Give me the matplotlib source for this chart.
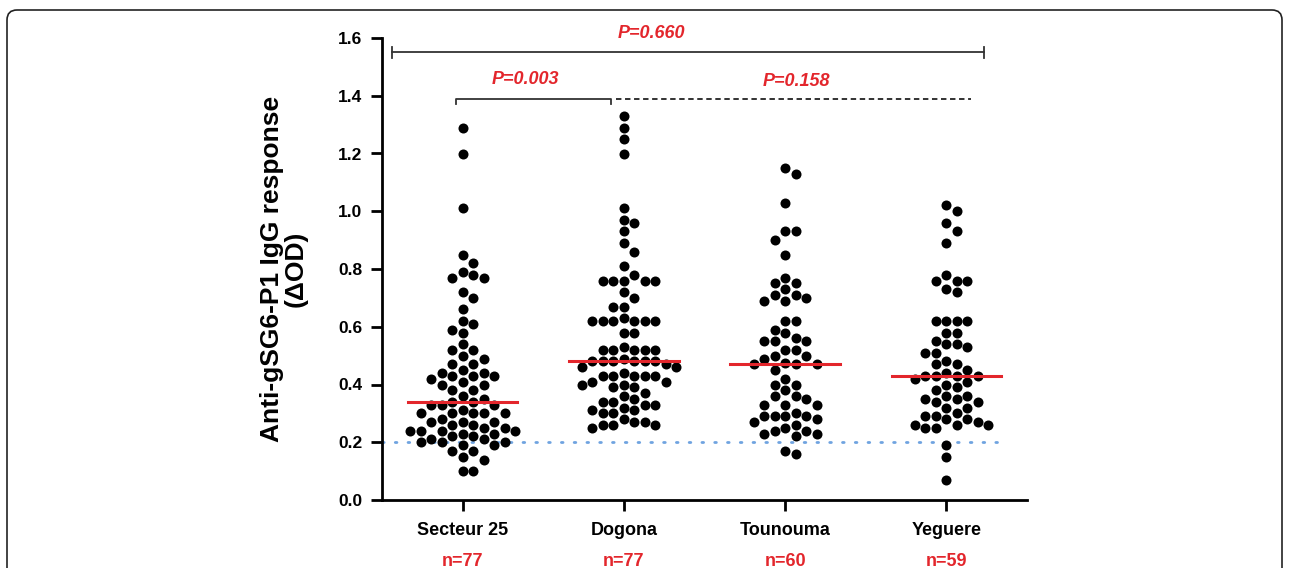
import numpy as np
import matplotlib
matplotlib.use("Agg")
import matplotlib.pyplot as plt
from matplotlib.patches import FancyBboxPatch
from matplotlib.transforms import IdentityTransform, blended_transform_factory

plt.rcParams['font.family'] = ['Liberation Sans', 'DejaVu Sans']

# --- data ---
groups = ["Secteur 25", "Dogona", "Tounouma", "Yeguere"]
counts = ["n=77", "n=77", "n=60", "n=59"]

secteur25 = [1.29, 1.20, 1.01, 0.85, 0.82, 0.79, 0.78, 0.77, 0.77, 0.72,
             0.70, 0.66, 0.62, 0.61, 0.59, 0.58, 0.54, 0.52, 0.52, 0.50,
             0.49, 0.47, 0.47, 0.45, 0.44, 0.44, 0.43, 0.43, 0.43, 0.42,
             0.41, 0.40, 0.40, 0.38, 0.38, 0.36, 0.35, 0.34, 0.34, 0.33,
             0.33, 0.33, 0.31, 0.30, 0.30, 0.30, 0.30, 0.30, 0.28, 0.27,
             0.27, 0.27, 0.26, 0.26, 0.25, 0.25, 0.24, 0.24, 0.24, 0.24,
             0.23, 0.23, 0.22, 0.22, 0.21, 0.21, 0.20, 0.20, 0.20, 0.19,
             0.19, 0.17, 0.17, 0.15, 0.14, 0.10, 0.10]
dogona = [1.33, 1.29, 1.25, 1.20, 1.01, 0.97, 0.96, 0.93, 0.89, 0.86,
          0.81, 0.78, 0.76, 0.76, 0.76, 0.76, 0.76, 0.72, 0.70, 0.67,
          0.67, 0.63, 0.62, 0.62, 0.62, 0.62, 0.62, 0.62, 0.58, 0.58,
          0.53, 0.52, 0.52, 0.52, 0.52, 0.52, 0.49, 0.48, 0.48, 0.48,
          0.48, 0.48, 0.48, 0.47, 0.46, 0.46, 0.44, 0.43, 0.43, 0.43,
          0.43, 0.43, 0.41, 0.41, 0.40, 0.40, 0.39, 0.39, 0.37, 0.36,
          0.35, 0.34, 0.34, 0.33, 0.33, 0.32, 0.31, 0.31, 0.30, 0.30,
          0.28, 0.27, 0.27, 0.26, 0.26, 0.26, 0.25]
tounouma = [1.15, 1.13, 1.03, 0.93, 0.93, 0.90, 0.85, 0.77, 0.75, 0.75,
            0.73, 0.71, 0.71, 0.70, 0.69, 0.69, 0.62, 0.62, 0.59, 0.58,
            0.56, 0.55, 0.55, 0.55, 0.52, 0.52, 0.50, 0.50, 0.49, 0.475,
            0.47, 0.47, 0.47, 0.45, 0.42, 0.40, 0.40, 0.38, 0.36, 0.36,
            0.35, 0.33, 0.33, 0.33, 0.30, 0.29, 0.29, 0.29, 0.29, 0.28,
            0.27, 0.26, 0.25, 0.24, 0.24, 0.23, 0.23, 0.22, 0.17, 0.16]
yeguere = [1.02, 1.00, 0.96, 0.93, 0.89, 0.78, 0.76, 0.76, 0.76, 0.73,
           0.72, 0.62, 0.62, 0.62, 0.62, 0.58, 0.58, 0.55, 0.54, 0.54,
           0.53, 0.51, 0.51, 0.48, 0.47, 0.47, 0.45, 0.44, 0.43, 0.43,
           0.43, 0.43, 0.42, 0.41, 0.40, 0.39, 0.38, 0.36, 0.36, 0.35,
           0.35, 0.34, 0.34, 0.32, 0.32, 0.30, 0.29, 0.29, 0.28, 0.28,
           0.27, 0.26, 0.26, 0.26, 0.25, 0.25, 0.19, 0.15, 0.07]
values = [secteur25, dogona, tounouma, yeguere]

p_labels = ["P=0.660", "P=0.003", "P=0.158"]
cutoff = 0.2

red = "#e3262c"
blue = "#6fa3e0"

fig = plt.figure(figsize=(12.9, 5.68), dpi=100)
ax = fig.add_axes([382 / 1290, 1 - 500 / 568, (1027 - 382) / 1290, (500 - 38) / 568])
ax.set_xlim(-0.5, 3.5)
ax.set_ylim(0, 1.6)

# pixel scales for the swarm layout
px_x = (1027 - 382) / 4.0
px_y = (500 - 38) / 1.6
diam = 10.5


def swarm(vals):
    order = np.argsort(vals)[::-1]
    placed = []
    offs = np.zeros(len(vals))
    step = diam / 2
    cands = [0]
    for k in range(1, 20):
        cands += [k * step, -k * step]
    for i in order:
        y = vals[i] * px_y
        for c in cands:
            ok = True
            for (px, py) in placed:
                if (px - c) ** 2 + (py - y) ** 2 < (diam * 0.98) ** 2:
                    ok = False
                    break
            if ok:
                offs[i] = c
                placed.append((c, y))
                break
    return offs / px_x


for i, v in enumerate(values):
    v = np.array(v)
    xo = swarm(v)
    ax.scatter(i + xo, v, s=52, color="black", zorder=3, linewidths=0)
    med = np.median(v)
    ax.plot([i - 0.34, i + 0.34], [med, med], color=red, lw=2.2, zorder=4)

ax.plot([-0.5, 3.36], [cutoff, cutoff], color=blue, lw=2, ls=(0, (0.6, 4)),
        dash_capstyle="round", zorder=2)

# significance brackets
ax.plot([-0.435, 3.236], [1.55, 1.55], color="#333333", lw=1.3, clip_on=False)
for xe in [-0.435, 3.236]:
    ax.plot([xe, xe], [1.53, 1.57], color="#333333", lw=1.3, clip_on=False)
ax.plot([-0.04, -0.04, 0.92, 0.92], [1.37, 1.39, 1.39, 1.37], color="#333333", lw=1.3)
ax.plot([0.95, 3.155], [1.39, 1.39], color="#222222", lw=1.3, ls=(0, (3, 2)))
ax.text(1.17, 1.617, p_labels[0], color=red, fontsize=13, fontweight="bold",
        fontstyle="italic", ha="center", va="center", clip_on=False)
ax.text(0.39, 1.455, p_labels[1], color=red, fontsize=13, fontweight="bold",
        fontstyle="italic", ha="center", va="center")
ax.text(2.07, 1.448, p_labels[2], color=red, fontsize=13, fontweight="bold",
        fontstyle="italic", ha="center", va="center")

ax.set_xticks(range(4))
ax.set_xticklabels(groups, fontsize=13, fontweight="bold")
ax.set_yticks(np.arange(0, 1.61, 0.2))
ax.set_yticklabels(["%.1f" % t for t in np.arange(0, 1.61, 0.2)], fontsize=12.5, fontweight="bold")
ax.tick_params(axis="both", length=8, width=2, direction="out", pad=6)
ax.tick_params(axis="x", pad=8)
for s in ["top", "right"]:
    ax.spines[s].set_visible(False)
for s in ["left", "bottom"]:
    ax.spines[s].set_linewidth(2)

trans = blended_transform_factory(ax.transData, fig.transFigure)
for i, c in enumerate(counts):
    fig.text(i, 1 - 562 / 568, c, transform=trans, color=red, fontsize=13,
             fontweight="bold", ha="center", va="center")

ax.set_ylabel("Anti-gSG6-P1 IgG response\n(\u0394OD)", fontsize=19, fontweight="bold",
              labelpad=22, linespacing=1.0)

frame = FancyBboxPatch((7, -30), 1275, 588, boxstyle="round,pad=0,rounding_size=10",
                       transform=IdentityTransform(), facecolor="none",
                       edgecolor="#222222", lw=1.2)
fig.patches.append(frame)

fig.savefig("out.png", dpi=100)
